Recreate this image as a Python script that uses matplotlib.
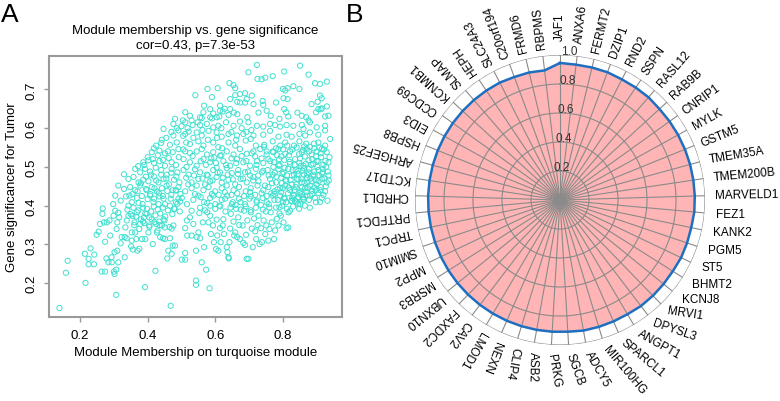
import numpy as np
import matplotlib
matplotlib.use('Agg')
import matplotlib.pyplot as plt

plt.rcParams['font.family'] = ['Liberation Sans', 'DejaVu Sans']

# ---- panel A : module membership vs gene significance (turquoise module) ----
points = [
 # lower tail
 (0.139,0.136),(0.158,0.227),(0.163,0.258),(0.216,0.201),(0.214,0.276),(0.225,0.263),(0.225,0.249),(0.231,0.290),
 (0.241,0.249),(0.242,0.274),(0.249,0.325),(0.255,0.333),(0.259,0.353),(0.266,0.379),(0.267,0.393),(0.264,0.230),
 (0.274,0.230),(0.274,0.307),(0.278,0.264),(0.271,0.357),(0.279,0.357),(0.287,0.362),(0.284,0.254),(0.293,0.267),
 (0.294,0.254),(0.298,0.404),(0.304,0.387),(0.300,0.230),(0.302,0.224),(0.307,0.235),(0.302,0.280),(0.310,0.284),
 (0.307,0.170),(0.299,0.374),(0.310,0.357),(0.308,0.340),(0.289,0.323),(0.313,0.382),(0.313,0.254),(0.316,0.370),
 (0.323,0.319),(0.320,0.303),(0.332,0.319),(0.334,0.344),(0.332,0.267),(0.338,0.362),(0.338,0.316),(0.343,0.374),
 (0.343,0.400),(0.346,0.426),(0.353,0.331),(0.351,0.295),(0.355,0.374),(0.356,0.287),(0.353,0.310),(0.361,0.357),
 (0.363,0.331),(0.366,0.314),(0.368,0.383),(0.370,0.284),(0.375,0.289),(0.373,0.407),(0.378,0.353),(0.383,0.314),
 (0.386,0.359),(0.389,0.370),(0.392,0.190),(0.397,0.379),(0.393,0.314),(0.402,0.331),(0.405,0.349),(0.407,0.426),
 (0.412,0.365),(0.415,0.301),(0.419,0.418),(0.423,0.232),(0.425,0.353),(0.427,0.331),(0.429,0.336),(0.432,0.404),
 (0.434,0.359),(0.437,0.319),(0.442,0.349),(0.445,0.316),(0.447,0.365),(0.447,0.418),(0.451,0.344),(0.451,0.314),
 (0.458,0.264),(0.461,0.284),(0.466,0.316),(0.468,0.142),(0.471,0.276),(0.471,0.341),(0.474,0.297),(0.476,0.349),
 (0.478,0.392),(0.481,0.297),(0.484,0.439),(0.491,0.418),(0.496,0.411),(0.501,0.261),(0.511,0.261),(0.511,0.278),
 (0.516,0.362),(0.511,0.342),(0.517,0.323),(0.525,0.370),(0.530,0.323),(0.530,0.387),(0.535,0.353),(0.540,0.430),
 (0.543,0.284),(0.543,0.207),(0.543,0.196),(0.545,0.319),(0.550,0.331),(0.553,0.381),(0.555,0.316),(0.557,0.422),
 (0.560,0.254),(0.563,0.357),(0.567,0.293),(0.573,0.235),(0.576,0.383),(0.576,0.407),(0.580,0.357),(0.583,0.187),
 (0.585,0.374),(0.587,0.327),(0.593,0.349),(0.594,0.426),(0.596,0.306),(0.602,0.288),(0.604,0.364),(0.606,0.323),
 (0.609,0.284),(0.612,0.400),(0.614,0.342),(0.616,0.306),(0.622,0.349),(0.624,0.365),(0.626,0.327),(0.629,0.418),
 (0.634,0.293),(0.636,0.280),(0.639,0.267),(0.640,0.264),(0.642,0.306),(0.644,0.341),(0.646,0.379),(0.649,0.404),
 (0.654,0.359),(0.656,0.323),(0.659,0.331),(0.662,0.392),(0.665,0.319),(0.668,0.370),(0.671,0.350),(0.673,0.314),
 (0.675,0.409),(0.681,0.349),(0.683,0.304),(0.685,0.387),(0.688,0.299),(0.691,0.325),(0.693,0.263),(0.698,0.263),
 (0.695,0.362),(0.701,0.418),(0.705,0.383),(0.708,0.341),(0.711,0.293),(0.715,0.367),(0.718,0.334),(0.721,0.314),
 (0.723,0.413),(0.725,0.350),(0.728,0.374),(0.731,0.301),(0.735,0.342),(0.738,0.306),(0.741,0.390),(0.743,0.362),
 (0.748,0.327),(0.751,0.349),(0.752,0.409),(0.757,0.310),(0.760,0.340),(0.764,0.383),(0.767,0.357),(0.770,0.426),
 (0.774,0.314),(0.777,0.336),(0.782,0.366),(0.787,0.349),(0.790,0.396),(0.794,0.374),(0.800,0.409),(0.802,0.357),
 (0.806,0.418),(0.811,0.342),(0.816,0.344),(0.821,0.387),(0.826,0.413),(0.831,0.426),(0.836,0.413),(0.841,0.409),
 (0.846,0.422),(0.851,0.404),(0.856,0.430),(0.861,0.418),(0.871,0.426),(0.886,0.439),
 # top
 (0.723,0.763),(0.851,0.761),(0.698,0.744),(0.804,0.746),(0.876,0.738),(0.725,0.727),(0.737,0.726),(0.748,0.730),
 (0.770,0.734),(0.577,0.701),(0.607,0.703),(0.642,0.716),(0.654,0.711),(0.659,0.703),(0.831,0.708),(0.849,0.701),
 (0.895,0.716),(0.910,0.714),(0.930,0.720),(0.800,0.701),(0.807,0.697),(0.814,0.703),
 (0.541,0.685),(0.644,0.675),(0.659,0.685),(0.673,0.688),(0.688,0.690),(0.693,0.675),(0.708,0.684),(0.802,0.677),
 (0.814,0.675),(0.910,0.684),(0.915,0.677),(0.665,0.668),(0.740,0.670),(0.903,0.668),(0.590,0.680),
 (0.567,0.658),(0.585,0.649),(0.614,0.658),(0.644,0.649),(0.673,0.666),(0.688,0.666),(0.713,0.662),(0.742,0.660),
 (0.752,0.645),(0.780,0.666),(0.804,0.649),(0.810,0.641),(0.885,0.662),(0.905,0.649),(0.915,0.651),(0.930,0.656),
 (0.511,0.641),(0.525,0.632),(0.555,0.628),(0.565,0.641),(0.594,0.638),(0.614,0.645),(0.622,0.643),(0.481,0.624),
 (0.504,0.620),(0.530,0.620),(0.560,0.626),(0.585,0.628),(0.604,0.628),(0.639,0.634),(0.665,0.636),(0.695,0.628),
 (0.728,0.640),(0.764,0.632),(0.790,0.624),(0.816,0.630),(0.856,0.632),(0.869,0.628),(0.876,0.620),(0.898,0.641),
 (0.912,0.649),(0.925,0.630),(0.935,0.632),(0.843,0.640),(0.655,0.640),
 (0.447,0.598),(0.476,0.611),(0.491,0.594),(0.511,0.615),(0.533,0.608),(0.555,0.608),(0.575,0.611),(0.594,0.602),
 (0.609,0.606),(0.654,0.606),(0.673,0.617),(0.698,0.615),(0.723,0.606),(0.742,0.604),(0.762,0.611),(0.777,0.608),
 (0.792,0.604),(0.811,0.608),(0.831,0.606),(0.856,0.608),(0.861,0.598),(0.880,0.615),(0.900,0.602),(0.925,0.606),
 (0.476,0.581),(0.511,0.585),(0.521,0.591),(0.545,0.589),(0.560,0.581),(0.580,0.593),(0.604,0.589),(0.619,0.578),
 (0.639,0.585),(0.664,0.581),(0.683,0.585),(0.713,0.581),(0.742,0.583),(0.762,0.593),(0.787,0.578),(0.811,0.583),
 (0.826,0.578),(0.849,0.585),(0.866,0.581),(0.880,0.589),(0.905,0.583),(0.925,0.594),(0.940,0.572),
 # middle bands
 (0.442,0.570),(0.466,0.557),(0.486,0.563),(0.514,0.563),(0.525,0.559),(0.550,0.566),(0.565,0.555),(0.594,0.563),
 (0.609,0.551),(0.639,0.563),(0.659,0.555),(0.690,0.568),(0.705,0.572),(0.720,0.555),(0.745,0.557),(0.770,0.566),
 (0.792,0.555),(0.807,0.563),(0.833,0.555),(0.849,0.566),(0.869,0.560),(0.880,0.552),(0.905,0.563),(0.925,0.555),
 (0.412,0.538),(0.435,0.542),(0.451,0.535),(0.474,0.538),(0.491,0.546),(0.511,0.540),(0.525,0.536),(0.545,0.540),
 (0.560,0.546),(0.575,0.532),(0.594,0.538),(0.614,0.529),(0.634,0.540),(0.654,0.532),(0.673,0.546),(0.693,0.534),
 (0.713,0.540),(0.733,0.546),(0.752,0.532),(0.772,0.538),(0.787,0.546),(0.807,0.534),(0.821,0.540),(0.841,0.550),
 (0.856,0.538),(0.871,0.546),(0.885,0.532),(0.900,0.540),(0.912,0.535),(0.930,0.538),(0.418,0.548),(0.620,0.548),
 (0.744,0.552),(0.780,0.548),(0.860,0.544),(0.893,0.548),(0.915,0.546),
 (0.387,0.512),(0.402,0.517),(0.419,0.510),(0.435,0.515),(0.451,0.503),(0.471,0.512),(0.484,0.505),(0.506,0.520),
 (0.525,0.512),(0.545,0.503),(0.565,0.520),(0.585,0.512),(0.604,0.498),(0.624,0.515),(0.644,0.503),(0.664,0.520),
 (0.683,0.512),(0.703,0.503),(0.723,0.515),(0.742,0.510),(0.757,0.520),(0.774,0.512),(0.790,0.505),(0.804,0.518),
 (0.821,0.508),(0.836,0.520),(0.849,0.510),(0.861,0.503),(0.876,0.517),(0.890,0.508),(0.905,0.515),(0.920,0.505),
 (0.935,0.512),(0.363,0.495),(0.378,0.486),(0.392,0.495),(0.407,0.488),(0.424,0.498),(0.440,0.492),(0.456,0.480),
 (0.471,0.495),(0.488,0.486),(0.506,0.492),(0.521,0.480),(0.540,0.494),(0.555,0.486),(0.575,0.480),(0.594,0.492),
 (0.614,0.486),(0.634,0.497),(0.649,0.484),(0.668,0.492),(0.688,0.486),(0.703,0.478),(0.720,0.495),(0.738,0.486),
 (0.755,0.492),(0.770,0.480),(0.787,0.494),(0.802,0.486),(0.816,0.495),(0.833,0.480),(0.846,0.490),(0.862,0.497),
 (0.876,0.486),(0.890,0.480),(0.905,0.492),(0.918,0.486),(0.935,0.478),(0.330,0.481),(0.372,0.502),(0.462,0.523),
 (0.533,0.528),(0.597,0.524),(0.718,0.527),(0.795,0.527),(0.865,0.527),(0.898,0.527),
 (0.343,0.469),(0.358,0.474),(0.373,0.460),(0.387,0.467),(0.402,0.463),(0.419,0.475),(0.432,0.460),(0.447,0.469),
 (0.463,0.455),(0.478,0.467),(0.494,0.460),(0.514,0.472),(0.530,0.460),(0.550,0.469),(0.570,0.455),(0.585,0.463),
 (0.604,0.474),(0.619,0.460),(0.639,0.467),(0.659,0.455),(0.675,0.469),(0.693,0.460),(0.713,0.474),(0.728,0.463),
 (0.747,0.452),(0.762,0.469),(0.780,0.460),(0.795,0.472),(0.810,0.463),(0.826,0.455),(0.841,0.469),(0.856,0.460),
 (0.871,0.472),(0.885,0.463),(0.900,0.455),(0.915,0.469),(0.930,0.460),(0.313,0.452),(0.330,0.443),(0.348,0.448),
 (0.363,0.440),(0.378,0.452),(0.395,0.443),(0.412,0.448),(0.427,0.437),(0.442,0.445),(0.456,0.452),(0.474,0.440),
 (0.491,0.448),(0.511,0.437),(0.530,0.445),(0.545,0.452),(0.565,0.440),(0.580,0.448),(0.600,0.437),(0.619,0.445),
 (0.634,0.452),(0.654,0.440),(0.670,0.448),(0.690,0.437),(0.705,0.445),(0.725,0.452),(0.742,0.440),(0.757,0.448),
 (0.775,0.437),(0.792,0.445),(0.807,0.452),(0.821,0.440),(0.838,0.448),(0.852,0.437),(0.866,0.445),(0.880,0.452),
 (0.898,0.440),(0.912,0.448),(0.925,0.437),
 (0.304,0.426),(0.320,0.413),(0.336,0.424),(0.353,0.409),(0.368,0.420),(0.385,0.404),(0.400,0.417),(0.417,0.409),
 (0.435,0.424),(0.451,0.404),(0.468,0.418),(0.484,0.409),(0.501,0.420),(0.516,0.404),(0.535,0.415),(0.550,0.426),
 (0.567,0.409),(0.585,0.420),(0.600,0.404),(0.619,0.415),(0.635,0.426),(0.652,0.409),(0.670,0.418),(0.688,0.404),
 (0.705,0.424),(0.722,0.409),(0.740,0.420),(0.758,0.404),(0.775,0.415),(0.792,0.426),(0.810,0.409),(0.828,0.420),
 (0.845,0.404),(0.862,0.415),(0.880,0.426),(0.898,0.409),(0.915,0.420),(0.932,0.413),
 # dense cluster on the right
 (0.772,0.500),(0.781,0.475),(0.789,0.520),(0.797,0.458),(0.805,0.498),(0.812,0.478),(0.818,0.530),(0.823,0.466),
 (0.829,0.492),(0.835,0.505),(0.840,0.455),(0.844,0.482),(0.851,0.522),(0.855,0.470),(0.858,0.490),(0.864,0.458),
 (0.868,0.508),(0.872,0.480),(0.878,0.495),(0.882,0.470),(0.887,0.520),(0.893,0.488),(0.897,0.466),(0.902,0.500),
 (0.908,0.478),(0.913,0.525),(0.918,0.495),(0.923,0.470),(0.928,0.500),(0.933,0.488),(0.775,0.430),(0.785,0.415),
 (0.795,0.435),(0.803,0.420),(0.815,0.432),(0.825,0.412),(0.833,0.428),(0.843,0.418),(0.850,0.433),(0.860,0.422),
 (0.870,0.436),(0.877,0.415),(0.887,0.430),(0.895,0.420),(0.905,0.433),(0.910,0.410),(0.920,0.428),(0.780,0.395),
 (0.798,0.400),(0.812,0.392),(0.830,0.398),(0.848,0.392),(0.865,0.400),(0.880,0.395),(0.817,0.383),(0.790,0.380),
 (0.760,0.395),(0.768,0.458),(0.776,0.485),(0.788,0.503),(0.799,0.482),(0.808,0.467),(0.820,0.513),(0.827,0.478),
 (0.838,0.493),(0.846,0.468),(0.853,0.503),(0.862,0.480),(0.873,0.460),(0.884,0.505),(0.891,0.475),(0.900,0.515),
 (0.906,0.463),(0.916,0.483),(0.926,0.515),(0.936,0.465),(0.763,0.515),(0.770,0.540),(0.783,0.530),(0.801,0.545),
 (0.813,0.555),(0.828,0.545),(0.848,0.533),(0.863,0.553),(0.877,0.540),(0.892,0.560),(0.908,0.550),(0.922,0.545),
 (0.938,0.525),(0.758,0.478),(0.766,0.432),(0.784,0.442),(0.800,0.445),(0.818,0.447),(0.834,0.440),(0.857,0.448),
 (0.875,0.445),(0.893,0.447),(0.911,0.440),(0.927,0.450),
 # cluster on the left
 (0.340,0.390),(0.350,0.378),(0.358,0.395),(0.366,0.372),(0.372,0.388),(0.380,0.365),(0.386,0.395),(0.393,0.380),
 (0.398,0.392),(0.405,0.370),(0.410,0.385),(0.418,0.398),(0.423,0.375),(0.430,0.390),(0.437,0.380),(0.445,0.395),
 (0.452,0.372),(0.460,0.388),(0.466,0.400),(0.473,0.378),(0.480,0.392),(0.488,0.405),(0.495,0.385),(0.355,0.430),
 (0.370,0.437),(0.383,0.425),(0.397,0.440),(0.408,0.430),(0.420,0.445),(0.433,0.432),(0.445,0.425),(0.458,0.438),
 (0.470,0.428),(0.483,0.440),(0.497,0.430),(0.360,0.350),(0.375,0.340),(0.390,0.355),(0.405,0.345),(0.420,0.358),
 (0.435,0.350),(0.450,0.362),(0.465,0.345),(0.380,0.458),(0.395,0.475),(0.410,0.480),(0.425,0.465),(0.440,0.480),
 (0.455,0.470),(0.470,0.485),(0.485,0.475),(0.390,0.505),(0.400,0.525),(0.415,0.520),(0.430,0.530),(0.445,0.518),
 (0.460,0.540),(0.492,0.525),(0.505,0.545),(0.425,0.555),(0.440,0.562),(0.455,0.575),(0.470,0.590),(0.486,0.600),
 (0.500,0.605),
 # middle
 (0.555,0.395),(0.570,0.388),(0.585,0.400),(0.600,0.392),(0.615,0.398),(0.630,0.385),(0.645,0.395),(0.660,0.402),
 (0.675,0.390),(0.690,0.398),(0.705,0.388),(0.720,0.395),(0.735,0.402),(0.750,0.385),(0.562,0.470),(0.578,0.478),
 (0.592,0.465),(0.607,0.485),(0.622,0.472),(0.637,0.480),(0.652,0.468),(0.667,0.482),(0.682,0.470),(0.697,0.488),
 (0.712,0.465),(0.727,0.478),(0.742,0.490),(0.557,0.515),(0.572,0.505),(0.588,0.522),(0.602,0.510),(0.618,0.530),
 (0.632,0.505),(0.648,0.522),(0.662,0.510),(0.678,0.528),(0.692,0.515),(0.708,0.535),(0.722,0.505),(0.737,0.522),
 (0.752,0.540),(0.590,0.430),(0.610,0.428),(0.628,0.435),(0.648,0.428),(0.665,0.432),(0.685,0.425),(0.703,0.435),
 (0.718,0.428),(0.737,0.432),(0.752,0.425),(0.520,0.455),(0.537,0.478),(0.515,0.500),
 (0.505,0.580),(0.518,0.600),(0.535,0.575),(0.548,0.615),(0.562,0.595),(0.578,0.570),(0.590,0.625),(0.605,0.575),
 (0.618,0.600),(0.632,0.615),(0.648,0.590),(0.662,0.570),(0.678,0.600),(0.692,0.590),(0.707,0.595),(0.628,0.650),
 (0.612,0.630),
]
mm = [p[0] for p in points]
gs = [p[1] for p in points]

x_ticks = [0.2, 0.4, 0.6, 0.8]
y_ticks = [0.2, 0.3, 0.4, 0.5, 0.6, 0.7]

# ---- panel B : hub genes radar ----
genes = ['JAF1', 'ANXA6', 'FERMT2', 'DZIP1', 'RND2', 'SSPN', 'RASL12', 'RAB9B', 'CNRIP1', 'MYLK',
         'GSTM5', 'TMEM35A', 'TMEM200B', 'MARVELD1', 'FEZ1', 'KANK2', 'PGM5', 'ST5', 'BHMT2', 'KCNJ8',
         'MRVI1', 'DPYSL3', 'ANGPT1', 'SPARCL1', 'MIR100HG', 'ADCY5', 'SGCB', 'PRKG', 'ASB2', 'CLIP4',
         'NEXN', 'LMOD1', 'CAV2', 'FAXDC2', 'UBXN10', 'MSRB3', 'MPP2', 'SMIM10', 'TRPC1', 'PRTFDC1',
         'CHRDL1', 'KCTD17', 'ARHGEF25', 'HSPB8', 'EID3', 'CCDC69', 'KCNMB1', 'SLMAP', 'HEPH', 'SLC24A3',
         'C20orf194', 'FRMD6', 'RBPMS']
values = [0.945, 0.94, 0.94, 0.94, 0.935, 0.935, 0.935, 0.93, 0.93, 0.93,
          0.93, 0.93, 0.93, 0.93, 0.93, 0.925, 0.925, 0.925, 0.92, 0.92,
          0.92, 0.92, 0.915, 0.915, 0.915, 0.915, 0.91, 0.91, 0.91, 0.91,
          0.91, 0.91, 0.91, 0.91, 0.91, 0.91, 0.91, 0.91, 0.91, 0.91,
          0.91, 0.91, 0.91, 0.91, 0.91, 0.91, 0.91, 0.91, 0.91, 0.91,
          0.905, 0.905, 0.90]
r_ticks = [0.2, 0.4, 0.6, 0.8, 1.0]

fig = plt.figure(figsize=(7.8, 4.02), dpi=100)

ax = fig.add_axes([49/780, 84/402, 293/780, 261/402])
ax.scatter(mm, gs, s=14, facecolors='none', edgecolors='#40E0D0', linewidths=0.7)
ax.set_xlim(0.108, 0.975)
ax.set_ylim(0.113, 0.786)
ax.set_xticks(x_ticks)
ax.set_yticks(y_ticks)
ax.set_yticklabels([str(v) for v in y_ticks], rotation=90, va='center')
ax.tick_params(color='#999999', labelcolor='black', length=3.5, width=1, labelsize=9.5, pad=5)
for sp in ax.spines.values():
    sp.set_color('#999999')
    sp.set_linewidth(1.5)

fig.text(195.5/780, 1-31/402, 'Module membership vs. gene significance', ha='center', va='center', fontsize=9.5)
fig.text(195.5/780, 1-46/402, 'cor=0.43, p=7.3e-53', ha='center', va='center', fontsize=9.5)
fig.text(195.5/780, 1-353/402, 'Module Membership on turquoise module', ha='center', va='center', fontsize=9.5)
fig.text(12/780, 1-187.5/402, 'Gene significancer for Tumor', ha='center', va='center', rotation=90, fontsize=9.5)
fig.text(1/780, 1-15/402, 'A', ha='left', va='center', fontsize=19)
fig.text(346/780, 1-15/402, 'B', ha='left', va='center', fontsize=19)

# radar
n = len(genes)
theta = np.arange(n) * 2 * np.pi / n
rx = fig.add_axes([415/780, 56/402, 290/780, 290/402], projection='polar')
rx.set_theta_offset(np.pi / 2)
rx.set_theta_direction(-1)
rx.set_ylim(0, 1)
rx.axis('off')

tt = np.append(theta, theta[0])
vv = np.append(values, values[0])
rx.fill(tt, vv, color='#FFB5B5', lw=0, zorder=1)
circ = np.linspace(0, 2 * np.pi, 400)
for r in r_ticks:
    rx.plot(circ, np.full_like(circ, r), color='#8a8a8a', lw=0.8, zorder=2)
for t in theta:
    rx.plot([t, t], [0, 1], color='#8a8a8a', lw=0.8, zorder=2)
rx.plot(tt, vv, color='#1F6FC0', lw=1.8, zorder=3)

for r in r_ticks:
    rx.text(0.06, r + 0.03, '%.1f' % r, ha='center', va='center', fontsize=8.5, color='#333333', zorder=4)

for i, (t, g) in enumerate(zip(theta, genes)):
    a = 90 - np.degrees(t)
    if a > 180:
        a -= 360
    if a <= -180:
        a += 360
    rlab = 1.05
    rot = a
    # labels on the lower right side are flattened towards horizontal
    if -40 <= a <= 0:
        rot = 0
        rlab = 1.08
    elif -115 < a < -40:
        rot = (a + 40) * 1.51
        rlab = 1.06
    elif 0 < a < 20:
        rot = a * 0.6
        rlab = 1.07
    if i == 0:
        rlab = 1.10   # sits above the "1.0" tick label
    if i == 1:
        rlab = 1.09
    rx.text(t, rlab, g, rotation=rot % 360, rotation_mode='anchor', ha='left', va='center', fontsize=8.5)

fig.savefig('out.png', dpi=100)
